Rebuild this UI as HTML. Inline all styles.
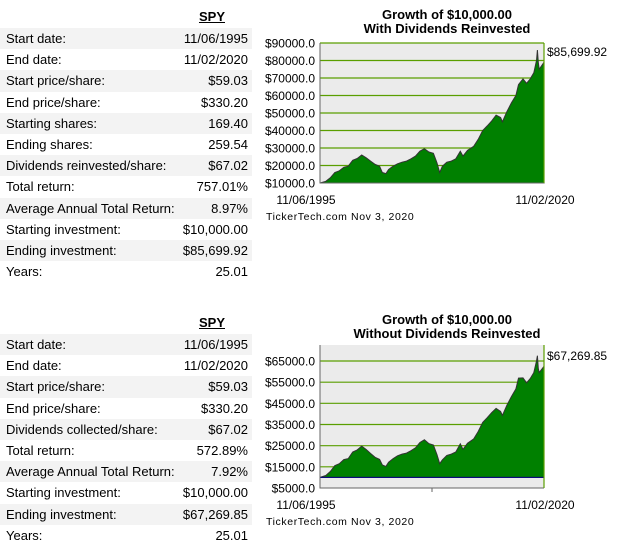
<!DOCTYPE html>
<html><head><meta charset="utf-8"><style>
body{margin:0;width:623px;height:542px;background:#fff;font-family:"Liberation Sans",Arial,sans-serif;position:relative;overflow:hidden}
.tbl{position:absolute;left:0;width:252px}
.hd{height:22px;text-align:right;padding-right:27px;font-weight:bold;font-size:13px;text-decoration:underline;line-height:22px}
.row{height:21.2px;line-height:21.2px;font-size:13px;display:flex;justify-content:space-between;padding:0 4px 0 6px}
.row:nth-child(even){background:#f3f3f3}
svg{position:absolute;left:0;top:0}
</style></head><body>
<div class="tbl" style="top:6px">
<div class="hd">SPY</div>
<div class="row"><span>Start date:</span><span>11/06/1995</span></div>
<div class="row"><span>End date:</span><span>11/02/2020</span></div>
<div class="row"><span>Start price/share:</span><span>$59.03</span></div>
<div class="row"><span>End price/share:</span><span>$330.20</span></div>
<div class="row"><span>Starting shares:</span><span>169.40</span></div>
<div class="row"><span>Ending shares:</span><span>259.54</span></div>
<div class="row"><span>Dividends reinvested/share:</span><span>$67.02</span></div>
<div class="row"><span>Total return:</span><span>757.01%</span></div>
<div class="row"><span>Average Annual Total Return:</span><span>8.97%</span></div>
<div class="row"><span>Starting investment:</span><span>$10,000.00</span></div>
<div class="row"><span>Ending investment:</span><span>$85,699.92</span></div>
<div class="row"><span>Years:</span><span>25.01</span></div>
</div>
<div class="tbl" style="top:312px">
<div class="hd">SPY</div>
<div class="row"><span>Start date:</span><span>11/06/1995</span></div>
<div class="row"><span>End date:</span><span>11/02/2020</span></div>
<div class="row"><span>Start price/share:</span><span>$59.03</span></div>
<div class="row"><span>End price/share:</span><span>$330.20</span></div>
<div class="row"><span>Dividends collected/share:</span><span>$67.02</span></div>
<div class="row"><span>Total return:</span><span>572.89%</span></div>
<div class="row"><span>Average Annual Total Return:</span><span>7.92%</span></div>
<div class="row"><span>Starting investment:</span><span>$10,000.00</span></div>
<div class="row"><span>Ending investment:</span><span>$67,269.85</span></div>
<div class="row"><span>Years:</span><span>25.01</span></div>
</div>
<svg id="chart" width="623" height="542"></svg>
<script>
const years=[1995.85,1996.5,1997,1997.5,1998,1998.5,1999,1999.5,2000,2000.5,2001,2001.5,2002,2002.5,2002.8,2003.2,2003.5,2004,2004.5,2005,2005.5,2006,2006.5,2007,2007.5,2008,2008.5,2008.9,2009.2,2009.5,2010,2010.5,2011,2011.5,2011.8,2012.3,2013,2013.5,2014,2014.5,2015,2015.5,2016,2016.2,2016.7,2017.2,2017.7,2018,2018.5,2018.9,2019.3,2019.7,2020,2020.1,2020.2,2020.3,2020.84];
const withDiv=[10,11,13,16,17,19,19.6,23,24,26,24.4,22.5,20.6,19.6,16,15.4,17.7,19.6,21,21.9,22.5,23.8,25.4,28.2,29.6,27.7,27,21.5,16,19.6,21.9,22.5,23.8,28.2,25.4,28.6,31,35,40,42.6,45.5,48.8,47.4,45,50.8,55.8,60,66.2,69.5,67,69.5,73,80,86,79,75,79];
const noDiv=[10,10.9,12.8,15.6,16.5,18.4,18.9,22,23,24.8,23.2,21.3,19.5,18.5,15.9,15.2,17.2,18.9,20.2,21,21.5,22.6,24,26.5,27.8,26,25.3,20.8,16.5,18.3,20.4,21,22,25.9,23.3,26.1,28.2,31.7,36,38.2,40.6,42.6,41.2,39.3,44.1,48.2,51.8,56.9,57,54.7,56.7,59.5,65,67.5,61.5,59.5,62.5];
const ticks1=[10000,20000,30000,40000,50000,60000,70000,80000,90000];
const ticks2=[5000,15000,25000,35000,45000,55000,65000];
const svg=document.getElementById('chart');const NS='http://www.w3.org/2000/svg';
function mk(t,a,txt){const e=document.createElementNS(NS,t);for(const k in a)e.setAttribute(k,a[k]);if(txt!==undefined)e.textContent=txt;svg.appendChild(e);return e;}
function chart(o){
 const X=y=>o.x0+(y-years[0])/(years[years.length-1]-years[0])*(o.x1-o.x0);
 const Y=v=>o.yb-(v-o.vb)*o.ppu;
 let r=mk('rect',{x:o.x0,y:o.top,width:o.x1-o.x0,height:o.bot-o.top,fill:'#ebebeb'});
 
 o.ticks.forEach(t=>{const yy=Y(t/1000);
  if(t!==o.ticks[0]){let l=mk('line',{x1:o.x0,x2:o.x1,y1:yy,y2:yy,stroke:'#5a9e00','stroke-width':1.2});}
  let tx=mk('text',{x:o.x0-5,y:yy+4.5,'text-anchor':'end','font-size':12,fill:'#000'},'$'+t+'.0');
  });
 let d='M'+X(years[0])+','+Y(10);
 o.vals.forEach((v,i)=>d+=' L'+X(years[i]).toFixed(1)+','+Y(v).toFixed(1));
 d+=' L'+X(years[years.length-1])+','+Y(10)+'Z';
 let a=mk('path',{d:d,fill:'#008000',stroke:'#333','stroke-width':1});
 
 if(o.base){let b=mk('line',{x1:o.x0,x2:o.x1,y1:Y(10),y2:Y(10),stroke:'#000080','stroke-width':1});
  let mt=mk('line',{x1:432,x2:432,y1:o.bot,y2:o.bot+4,stroke:'#666'});}
 let ax=mk('path',{d:'M'+o.x0+','+o.top+' V'+o.bot+' H'+o.x1,fill:'none',stroke:'#666','stroke-width':1});
 
 let rl=mk('line',{x1:o.x1,x2:o.x1,y1:o.top,y2:o.bot,stroke:'#5a9e00','stroke-width':1.2});
 
 [[o.title1,o.ty],[o.title2,o.ty+14]].forEach(([s,y])=>{let t=mk('text',{x:447,y:y,'text-anchor':'middle','font-size':13,'font-weight':'bold'},s);});
 let el=mk('text',{x:o.x1+3,y:o.ey,'font-size':12},o.endLabel);
 let x1=mk('text',{x:306,y:o.bot+21,'text-anchor':'middle','font-size':12},'11/06/1995');
 let x2=mk('text',{x:545,y:o.bot+21,'text-anchor':'middle','font-size':12},'11/02/2020');
 let c=mk('text',{x:266,y:o.bot+37,'font-size':10.5,'letter-spacing':'0.6'},'TickerTech.com  Nov 3, 2020');
}
chart({id:'chart1',vals:withDiv,ticks:ticks1,x0:320,x1:544,top:43,bot:183,yb:183,vb:10,ppu:140/80,title1:'Growth of $10,000.00',title2:'With Dividends Reinvested',ty:19,ey:56,endLabel:'$85,699.92'});
chart({id:'chart2',vals:noDiv,ticks:ticks2,x0:320,x1:544,top:345,bot:488,yb:361,vb:65,ppu:127/60,title1:'Growth of $10,000.00',title2:'Without Dividends Reinvested',ty:324,ey:360,endLabel:'$67,269.85',base:true});
</script>
</body></html>
